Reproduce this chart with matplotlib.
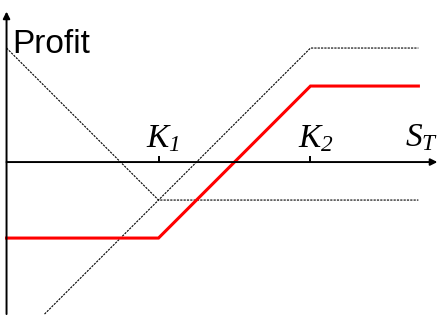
import numpy as np
import matplotlib.pyplot as plt

plt.rcParams['mathtext.fontset'] = 'custom'
plt.rcParams['mathtext.it'] = 'Liberation Serif:italic'
plt.rcParams['mathtext.rm'] = 'Liberation Serif:italic'

# strike prices and payoff lines (profit vs S_T)
strikes = [1.0, 2.0]
strike_labels = [r'$\mathit{K}_{\mathit{1}}$', r'$\mathit{K}_{\mathit{2}}$']

put_x = [0.0, 1.0, 2.71]
put_y = [0.75, -0.25, -0.25]

call_x = [0.25, 2.0, 2.71]
call_y = [-1.0, 0.75, 0.75]

spread_x = [0.0, 1.0, 2.0, 2.71]
spread_y = [-0.5, -0.5, 0.5, 0.5]

fig = plt.figure(figsize=(4.38, 3.2), dpi=100)
ax = fig.add_axes([0, 0, 1, 1])
ax.set_xlim(-0.043, 2.839)
ax.set_ylim(-1.039, 1.066)
ax.axis('off')

# axes with arrows
arrow = dict(arrowstyle='-|>', color='black', lw=1.4, mutation_scale=10,
             shrinkA=0, shrinkB=0)
ax.annotate('', xy=(2.835, 0), xytext=(0, 0), arrowprops=arrow)
ax.annotate('', xy=(0, 0.99), xytext=(0, -1.0), arrowprops=arrow)
ax.vlines(strikes, 0, 0.04, color='black', lw=1.4)

# component payoffs
ax.plot(put_x, put_y, color='black', lw=0.8, ls=(0, (2, 1)))
ax.plot(call_x, call_y, color='black', lw=0.8, ls=(0, (2, 1)))
# bull spread
ax.plot(spread_x, spread_y, color='#ff0000', lw=2.2, solid_joinstyle='miter')

ax.text(0.035, 0.72, 'Profit', fontsize=24, family='Liberation Sans',
        ha='left', va='baseline')
for k, lab in zip(strikes, strike_labels):
    ax.text(k - 0.085, 0.1, lab, fontsize=24, ha='left', va='baseline')
ax.text(2.62, 0.105, r'$\mathit{S}_{\mathit{T}}$', fontsize=24,
        ha='left', va='baseline')

fig.savefig('out.png', dpi=100)
